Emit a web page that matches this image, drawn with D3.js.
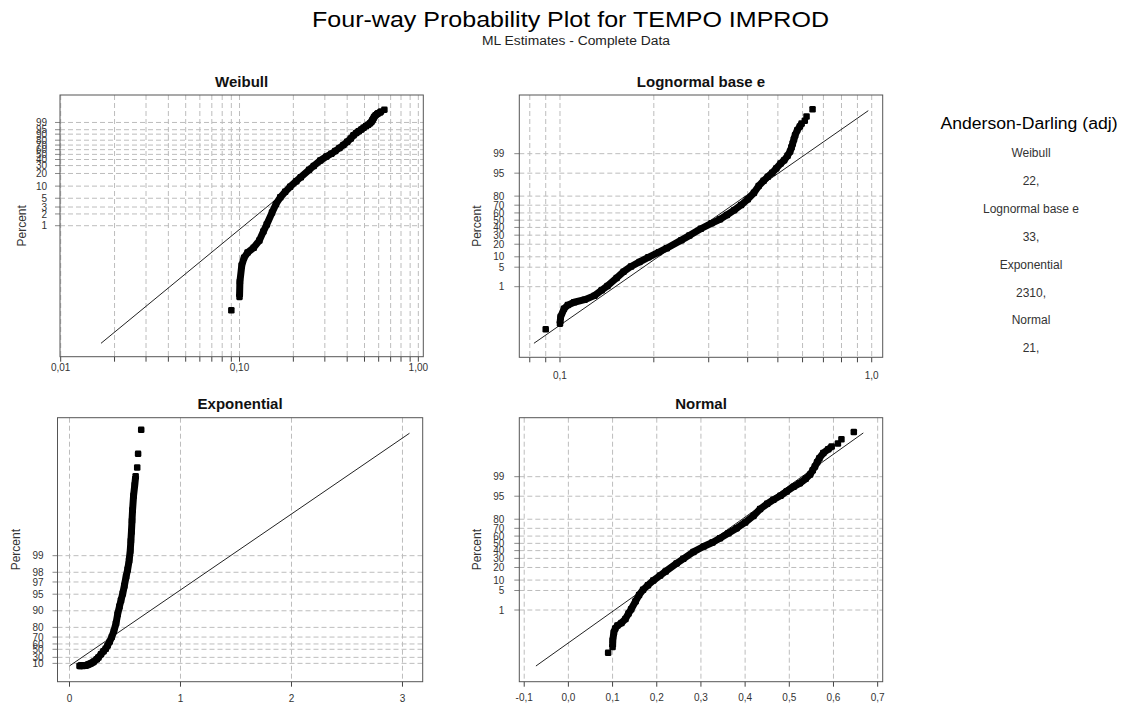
<!DOCTYPE html>
<html><head><meta charset="utf-8">
<script src="https://cdn.jsdelivr.net/npm/d3@7"></script>
<style>body{margin:0;background:#fff}svg{display:block}text{font-family:"Liberation Sans",Arial,sans-serif}</style>
</head><body><svg id="c" width="1121" height="706"></svg>
<script>
// ---------- data ----------
// ordered sample values (TEMPO IMPROD) and their cumulative plotting position (%)
const bandX   = [0.1000,0.1005,0.1030,0.1060,0.1110,0.1200,0.1290,0.1360,0.1420,0.1520,0.1600,0.1690,0.1800,0.1920,0.2076,0.2200,0.2450,0.2600,0.2830,0.3060,0.3260,0.3430,0.3620,0.3810,0.4000,0.4190,0.4340,0.4500,0.4640,0.4800,0.4940,0.5100,0.5240,0.5370,0.5470,0.5530,0.5580,0.5630,0.5680,0.5770,0.5880,0.5960];
const bandPct = [0.0147,0.0362,0.0968,0.149,0.205,0.272,0.415,0.714,1.072,2.169,3.593,5.262,7.215,9.68,13.14,16.35,24.20,29.46,38.21,45.62,51.20,57.14,63.68,70.19,76.73,83.15,88.49,91.62,93.57,95.15,96.49,97.61,98.214,98.778,99.180,99.461,99.632,99.767,99.851,99.9184,99.9481,99.9638];
const outlierX   = [0.0900,0.6100,0.6180,0.6460];
const outlierPct = [0.00667,99.9749,99.9858,99.9948];

// fitted distribution lines (end points: value, percent)
const weibullFitX = [0.0168,0.649],  weibullFitPct = [0.000935,99.9937];
const lognormFitX = [0.0825,0.975],  lognormFitPct = [0.000827,99.9936];
const expFitX     = [0.0,3.063],     expFitPct     = [0.0009,99.994];
const normalFitX  = [-0.0735,0.6675],normalFitPct  = [0.000935,99.99414];

// axis ticks
const weibullPctTicks = [1,2,3,5,10,20,30,40,50,60,70,80,90,95,99];
const normalPctTicks  = [1,5,10,20,30,40,50,60,70,80,95,99];
const expPctTicks     = [10,30,50,60,70,80,90,95,97,98,99];
const weibullXTicks = [0.01,0.1,1],  weibullXLabels = ["0,01","0,10","1,00"];
const lognormXTicks = [0.1,1],       lognormXLabels = ["0,1","1,0"];
const expXTicks = [0,1,2,3],         expXLabels = ["0","1","2","3"];
const normalXTicks = [-0.1,0,0.1,0.2,0.3,0.4,0.5,0.6,0.7];
const normalXLabels = ["-0,1","0,0","0,1","0,2","0,3","0,4","0,5","0,6","0,7"];

// goodness of fit
const adNames  = ["Weibull","Lognormal base e","Exponential","Normal"];
const adValues = ["22,","33,","2310,","21,"];

// ---------- probability transforms ----------
function probit(p){
 const a=[-3.969683028665376e+01,2.209460984245205e+02,-2.759285104469687e+02,1.383577518672690e+02,-3.066479806614716e+01,2.506628277459239e+00];
 const b=[-5.447609879822406e+01,1.615858368580409e+02,-1.556989798598866e+02,6.680131188771972e+01,-1.328068155288572e+01];
 const c=[-7.784894002430293e-03,-3.223964580411365e-01,-2.400758277161838e+00,-2.549732539343734e+00,4.374664141464968e+00,2.938163982698783e+00];
 const d=[7.784695709041462e-03,3.224671290700398e-01,2.445134137142996e+00,3.754408661907416e+00];
 const pl=0.02425; let q,r;
 if(p<pl){q=Math.sqrt(-2*Math.log(p));return (((((c[0]*q+c[1])*q+c[2])*q+c[3])*q+c[4])*q+c[5])/((((d[0]*q+d[1])*q+d[2])*q+d[3])*q+1);}
 if(p>1-pl){q=Math.sqrt(-2*Math.log(1-p));return -(((((c[0]*q+c[1])*q+c[2])*q+c[3])*q+c[4])*q+c[5])/((((d[0]*q+d[1])*q+d[2])*q+d[3])*q+1);}
 q=p-0.5;r=q*q;return (((((a[0]*r+a[1])*r+a[2])*r+a[3])*r+a[4])*r+a[5])*q/(((((b[0]*r+b[1])*r+b[2])*r+b[3])*r+b[4])*r+1);
}
const tNormal  = pct => probit(pct/100);
const tWeibull = pct => Math.log(-Math.log1p(-pct/100));
const tExp     = pct => -Math.log1p(-pct/100);

// ---------- panels ----------
const panels = [
 {title:"Weibull", l:60, r:423.3, t:95, b:356.7, xlog:true, xd:[0.00991,1.066], tf:tWeibull, yd:[-12.374,3.157],
  yt:weibullPctTicks, xt:weibullXTicks, xl:weibullXLabels, fx:weibullFitX, fp:weibullFitPct, gap:13, xlab:10.6, px:-38.3},
 {title:"Lognormal base e", l:519.3, r:882.7, t:95, b:357.3, xlog:true, xd:[0.07404,1.0846], tf:tNormal, yd:[-4.797,4.379],
  yt:normalPctTicks, xt:lognormXTicks, xl:lognormXLabels, fx:lognormFitX, fp:lognormFitPct, gap:15, xlab:17.7, px:-42.6},
 {title:"Exponential", l:57.5, r:422.7, t:417.7, b:681.7, xlog:false, xd:[-0.1082,3.1822], tf:tExp, yd:[-0.661,10.371],
  yt:expPctTicks, xt:expXTicks, xl:expXLabels, fx:expFitX, fp:expFitPct, gap:14, xlab:16.7, px:-41.5, xgrid:expXTicks},
 {title:"Normal", l:519.3, r:882.7, t:417.7, b:681.7, xlog:false, xd:[-0.1111,0.7114], tf:tNormal, yd:[-4.827,4.384],
  yt:normalPctTicks, xt:normalXTicks, xl:normalXLabels, fx:normalFitX, fp:normalFitPct, gap:15, xlab:15.3, px:-42.6, xgrid:normalXTicks}
];

const svg = d3.select("#c");
svg.append("rect").attr("width",1121).attr("height",706).attr("fill","#fff");

svg.append("text").attr("x",570.5).attr("y",27.3).attr("text-anchor","middle")
  .attr("font-size",22).attr("textLength",517).attr("lengthAdjust","spacingAndGlyphs")
  .attr("fill","#000").text("Four-way Probability Plot for TEMPO IMPROD");
svg.append("text").attr("x",576).attr("y",45).attr("text-anchor","middle")
  .attr("font-size",12).attr("textLength",188).attr("lengthAdjust","spacingAndGlyphs")
  .attr("fill","#222").text("ML Estimates - Complete Data");

panels.forEach(P=>{
  const g = svg.append("g");
  const x = (P.xlog ? d3.scaleLog() : d3.scaleLinear()).domain(P.xd).range([P.l,P.r]);
  const y = d3.scaleLinear().domain(P.yd).range([P.b,P.t]);
  const xgrid = P.xlog ? x.ticks().filter(v=>x(v)>P.l+0.5 && x(v)<P.r-0.5) : P.xgrid;
  const xtickAll = P.xlog ? x.ticks() : P.xgrid;
  // grid
  g.selectAll("line.vg").data(xgrid).join("line").attr("class","vg")
    .attr("x1",d=>x(d)).attr("x2",d=>x(d)).attr("y1",P.t).attr("y2",P.b)
    .attr("stroke","#bdbdbd").attr("stroke-dasharray","5,3");
  g.selectAll("line.hg").data(P.yt).join("line").attr("class","hg")
    .attr("x1",P.l).attr("x2",P.r).attr("y1",d=>y(P.tf(d))).attr("y2",d=>y(P.tf(d)))
    .attr("stroke","#bdbdbd").attr("stroke-dasharray","5,3");
  // ticks
  g.selectAll("line.xt").data(xtickAll).join("line").attr("class","xt")
    .attr("x1",d=>x(d)).attr("x2",d=>x(d)).attr("y1",P.b).attr("y2",P.b+5)
    .attr("stroke","#444");
  g.selectAll("line.yt").data(P.yt).join("line").attr("class","yt")
    .attr("x1",P.l-5).attr("x2",P.l).attr("y1",d=>y(P.tf(d))).attr("y2",d=>y(P.tf(d)))
    .attr("stroke","#888");
  // tick labels
  g.selectAll("text.yl").data(P.yt).join("text").attr("class","yl")
    .attr("x",P.l-P.gap).attr("y",d=>y(P.tf(d))+3.6).attr("text-anchor","end")
    .attr("font-size",10).attr("fill","#333").text(d=>String(d));
  g.selectAll("text.xl").data(P.xt).join("text").attr("class","xl")
    .attr("x",d=>x(d)).attr("y",P.b+P.xlab+3.6).attr("text-anchor","middle")
    .attr("font-size",10).attr("fill","#333").text((d,i)=>P.xl[i]);
  // frame
  g.append("rect").attr("x",P.l).attr("y",P.t).attr("width",P.r-P.l).attr("height",P.b-P.t)
    .attr("fill","none").attr("stroke","#555");
  // titles
  g.append("text").attr("x",(P.l+P.r)/2).attr("y",P.t-8.4).attr("text-anchor","middle")
    .attr("font-size",15).attr("font-weight","bold").attr("fill","#111").text(P.title);
  const cy=(P.t+P.b)/2, cx=P.l+P.px;
  g.append("text").attr("transform",`translate(${cx},${cy}) rotate(-90)`).attr("y",4.3)
    .attr("text-anchor","middle").attr("font-size",12).attr("fill","#333").text("Percent");
  // fit line
  const fit = P.fx.map((v,i)=>[v,P.fp[i]]);
  g.append("path").attr("d",d3.line().x(d=>x(d[0])).y(d=>y(P.tf(d[1])))(fit))
    .attr("fill","none").attr("stroke","#222").attr("stroke-width",1);
  // data band
  const band = bandX.map((v,i)=>[v,bandPct[i]]);
  g.append("path").attr("d",d3.line().x(d=>x(d[0])).y(d=>y(P.tf(d[1])))(band))
    .attr("fill","none").attr("stroke","#000").attr("stroke-width",7).attr("stroke-linejoin","round");
  const pts = band.concat(outlierX.map((v,i)=>[v,outlierPct[i]]));
  g.selectAll("rect.pt").data(pts).join("rect").attr("class","pt")
    .attr("x",d=>x(d[0])-3.25).attr("y",d=>y(P.tf(d[1]))-3.25).attr("width",6.5).attr("height",6.5)
    .attr("rx",1.3).attr("fill","#000");
});

// Anderson-Darling legend
svg.append("text").attr("x",1029).attr("y",129).attr("text-anchor","middle")
  .attr("font-size",16).attr("textLength",177).attr("lengthAdjust","spacingAndGlyphs")
  .attr("fill","#000").text("Anderson-Darling (adj)");
const adLines = adNames.flatMap((n,i)=>[n,adValues[i]]);
svg.selectAll("text.ad").data(adLines).join("text").attr("class","ad")
  .attr("x",1031).attr("y",(d,i)=>157+i*27.9).attr("text-anchor","middle")
  .attr("font-size",12).attr("fill","#333").text(d=>d);
</script></body></html>
